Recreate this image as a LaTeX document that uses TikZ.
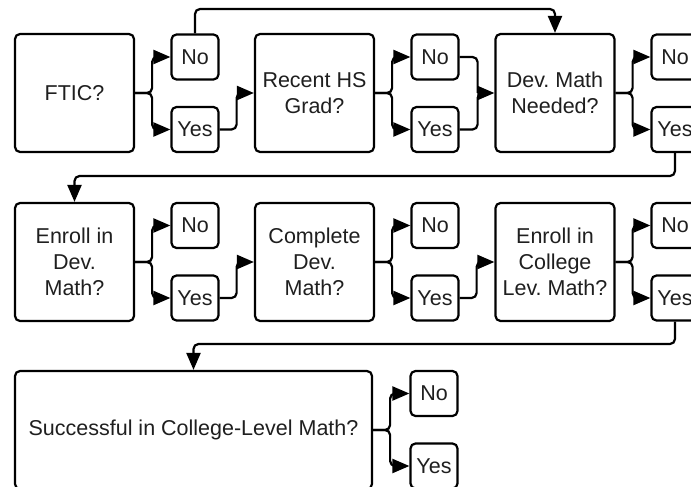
\documentclass[tikz,border=0pt]{standalone}
\usepackage{fontspec}
\setmainfont{Liberation Sans}
\usetikzlibrary{arrows.meta}
\frenchspacing
\begin{document}
\begin{tikzpicture}[x=1pt,y=-1pt,
  bigbox/.style={draw,line width=2.2pt,rounded corners=5pt,minimum width=119pt,minimum height=118pt,
    align=center,font=\fontsize{21.5}{26}\selectfont,text=black!88,inner sep=2pt},
  ansbox/.style={draw,line width=2.2pt,rounded corners=5pt,minimum width=47pt,minimum height=45pt,
    font=\fontsize{21.5}{26}\selectfont,text=black!88,inner sep=0pt},
  conn/.style={line width=2.2pt,rounded corners=5pt},
  arr/.style={conn,-{Triangle[length=17pt,width=14pt]}}]
\useasboundingbox (0,0) rectangle (691,487);
\clip (0,0) rectangle (691,487);
\fill[white] (0,0) rectangle (691,487);
% row 1
\node[bigbox] (ftic) at (74.5,93) {FTIC?};
\node[ansbox] (n1) at (195,57) {No};
\node[ansbox] (y1) at (195,129.5) {Yes};
\node[bigbox] (hs) at (314.5,93) {Recent HS\\Grad?};
\node[ansbox] (n2) at (435,57) {No};
\node[ansbox] (y2) at (435,129.5) {Yes};
\node[bigbox] (dm) at (555,93) {Dev. Math\\Needed?};
\node[ansbox] (n3) at (675,57) {No};
\node[ansbox] (y3) at (675,129.5) {Yes};
% row 2
\node[bigbox] (edm) at (74.5,262) {Enroll in\\Dev.\\Math?};
\node[ansbox] (n4) at (195,225.5) {No};
\node[ansbox] (y4) at (195,298) {Yes};
\node[bigbox] (cdm) at (314.5,262) {Complete\\Dev.\\Math?};
\node[ansbox] (n5) at (435,225.5) {No};
\node[ansbox] (y5) at (435,298) {Yes};
\node[bigbox] (ecl) at (555,262) {Enroll in\\College\\Lev. Math?};
\node[ansbox] (n6) at (675,225.5) {No};
\node[ansbox] (y6) at (675,298) {Yes};
% row 3
\node[bigbox,minimum width=357pt] (suc) at (193.5,430) {Successful in College-Level Math?};
\node[ansbox] (n7) at (434,393.5) {No};
\node[ansbox] (y7) at (434,466) {Yes};
% branches
\foreach \b/\n/\y in {ftic/n1/y1,hs/n2/y2,dm/n3/y3,edm/n4/y4,cdm/n5/y5,ecl/n6/y6,suc/n7/y7}{
  \draw[arr] (\b.east) -- ++(17,0) |- (\n.west);
  \draw[arr] (\b.east) -- ++(17,0) |- (\y.west);
}
% connectors
\draw[arr] (y1.east) -- ++(17,0) |- (hs.west);
\draw[arr] (y4.east) -- ++(17,0) |- (cdm.west);
\draw[arr] (y5.east) -- ++(17,0) |- (ecl.west);
\draw[conn] (n2.east) -| ++(18,36) coordinate (m2);
\draw[arr] (y2.east) -- ++(18,0) |- (dm.west);
\coordinate (t1) at (195,9);
\draw[arr] (n1.north) -- (t1) -| (dm.north);
\coordinate (t2) at (675,176);
\draw[arr] (y3.south) -- (t2) -| (edm.north);
\coordinate (t3) at (675,344);
\draw[arr] (y6.south) -- (t3) -| (suc.north);
\end{tikzpicture}
\end{document}
